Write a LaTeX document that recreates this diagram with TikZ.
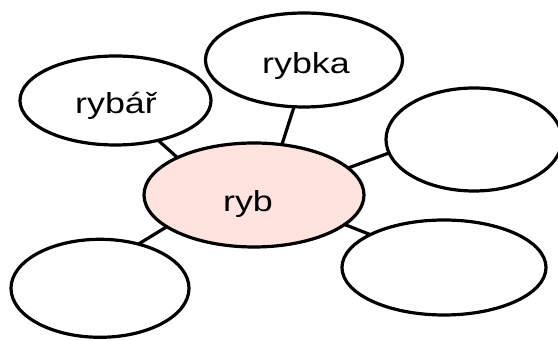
\documentclass[tikz,border=0pt]{standalone}
\usepackage{fontspec}
\setmainfont{Liberation Sans}
\usetikzlibrary{shapes.geometric}
\definecolor{rootfill}{RGB}{255,227,223}
\tikzset{
  bubble/.style={ellipse, draw=black, line width=2.4pt, fill=white,
    inner sep=0pt, outer sep=0pt},
  word/.style={anchor=base, inner sep=0pt, xscale=1.24,
    font=\fontsize{21.7}{26}\selectfont},
  link/.style={line width=2.4pt, draw=black}
}
\begin{document}
\begin{tikzpicture}[x=0.75pt, y=-0.75pt]
  \useasboundingbox[fill=white] (0,0) rectangle (558,341);

  % central stem and the surrounding bubbles
  \node[bubble, fill=rootfill, minimum width=220*0.75pt, minimum height=104*0.75pt] (root) at (254,195) {};
  \node[bubble, minimum width=191*0.75pt, minimum height=89*0.75pt] (rybar) at (115.5,100.5) {};
  \node[bubble, minimum width=197*0.75pt, minimum height=94*0.75pt] (rybka) at (304,60) {};
  \node[bubble, minimum width=176*0.75pt, minimum height=103*0.75pt] (east) at (474,139.5) {};
  \node[bubble, minimum width=204*0.75pt, minimum height=95*0.75pt] (southeast) at (444,267.5) {};
  \node[bubble, minimum width=178*0.75pt, minimum height=98*0.75pt] (southwest) at (100,288.3) {};

  % words
  \node[word] (wroot) at (248,211.7) {ryb};
  \node[word] (wrybar) at (116,113.3) {rybář};
  \node[word] (wrybka) at (306,73.3) {rybka};

  % connectors
  \draw[link] (root.154) -- (rybar.-43);
  \draw[link] (root.61) -- (rybka.258);
  \draw[link] (root.16) -- (east.189.4);
  \draw[link] (root.-18) -- (southeast.156.5);
  \draw[link] (root.200.5) -- (southwest.49.2);
\end{tikzpicture}
\end{document}
